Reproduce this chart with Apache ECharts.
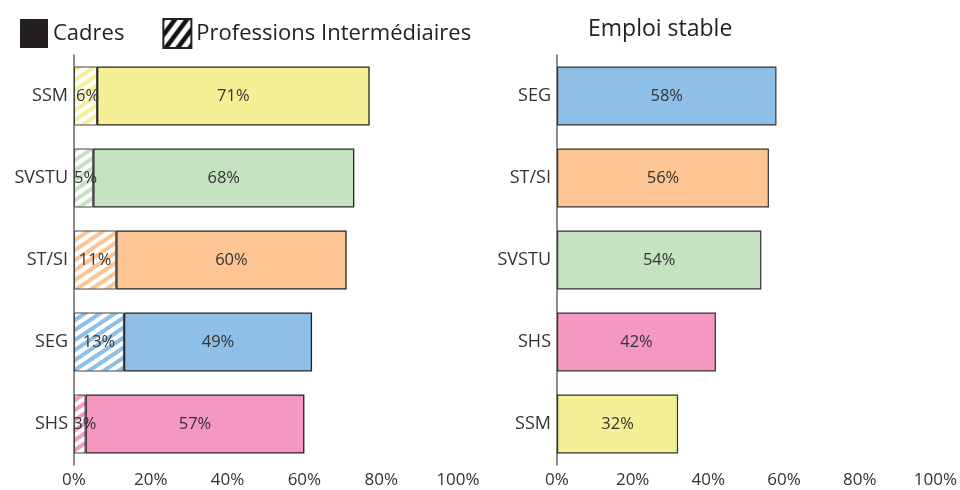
<!DOCTYPE html>
<html>
<head>
  <meta charset="utf-8">
  <title>Cadres / Emploi stable</title>
  <script src="https://cdn.jsdelivr.net/npm/echarts@6/dist/echarts.min.js"></script>
  <style>
    body { margin: 0; background: #fff; }
    #chart { width: 960px; height: 490px; }
  </style>
</head>
<body>
  <div id="chart"></div>
  <script>
    // données gauche (du haut vers le bas)
    var catsLeft = ['SSM', 'SVSTU', 'ST/SI', 'SEG', 'SHS'];
    var profInter = [6, 5, 11, 13, 3];
    var cadres = [71, 68, 60, 49, 57];
    // données droite
    var catsRight = ['SEG', 'ST/SI', 'SVSTU', 'SHS', 'SSM'];
    var emploiStable = [58, 56, 54, 42, 32];

    var couleurs = {
      'SSM': '#f5f096',
      'SVSTU': '#c5e3c0',
      'ST/SI': '#fcc593',
      'SEG': '#8ebfe7',
      'SHS': '#f497c1'
    };

    // motif hachuré : tuile w x h, trait diagonal bas-gauche -> haut-droite
    function hachure(color, w, h, lw) {
      var c = document.createElement('canvas');
      c.width = w; c.height = h;
      var ctx = c.getContext('2d');
      ctx.fillStyle = '#fff';
      ctx.fillRect(0, 0, w, h);
      ctx.strokeStyle = color;
      ctx.lineWidth = lw;
      ctx.beginPath();
      for (var k = -1; k <= 1; k++) {
        ctx.moveTo(k * w - w * 0.2, h * 1.2);
        ctx.lineTo(k * w + w * 1.2, -h * 0.2);
      }
      ctx.stroke();
      return { image: c, repeat: 'repeat' };
    }

    var police = 'Open Sans';
    var chart = echarts.init(document.getElementById('chart'));

    var xAxisBase = {
      type: 'value', min: 0, max: 100, interval: 20,
      axisLine: { lineStyle: { color: '#666', width: 1.5 } },
      axisTick: { inside: true, length: 8, lineStyle: { color: '#444' } },
      splitLine: { show: false },
      axisLabel: { formatter: '{value}%', fontFamily: police, fontSize: 17, color: '#333', margin: 7 }
    };
    var yAxisBase = {
      type: 'category', inverse: true,
      axisLine: { lineStyle: { color: '#666', width: 1.5 } },
      axisTick: { show: false },
      axisLabel: { fontFamily: police, fontSize: 18, color: '#333', margin: 6 }
    };
    var labelBase = { show: true, position: 'inside', fontFamily: police, fontSize: 16.5, color: '#333', formatter: '{c}%' };

    var option = {
      animation: false,
      textStyle: { fontFamily: police },
      title: {
        text: 'Emploi stable', left: 583, top: 13,
        textStyle: { fontFamily: police, fontSize: 23, fontWeight: 'normal', color: '#222' }
      },
      legend: {
        left: 15, top: 13,
        itemWidth: 28, itemHeight: 29, itemGap: 38,
        icon: 'rect',
        data: ['Cadres', 'Professions Intermédiaires'],
        textStyle: { fontFamily: police, fontSize: 22, color: '#222' }
      },
      grid: [
        { left: 74, right: 502, top: 55, bottom: 25 },
        { left: 557, right: 18, top: 55, bottom: 25 }
      ],
      xAxis: [
        Object.assign({ gridIndex: 0 }, xAxisBase),
        Object.assign({ gridIndex: 1 }, xAxisBase)
      ],
      yAxis: [
        Object.assign({ gridIndex: 0, data: catsLeft }, yAxisBase),
        Object.assign({ gridIndex: 1, data: catsRight }, yAxisBase)
      ],
      series: [
        {
          name: 'Professions Intermédiaires', type: 'bar', stack: 'g', xAxisIndex: 0, yAxisIndex: 0,
          barWidth: 59,
          itemStyle: { color: hachure('#111', 12, 16, 4.5), borderColor: '#222', borderWidth: 1 },
          label: labelBase,
          data: profInter.map(function (v, i) {
            // étiquette décalée quand le segment est trop étroit
            var lbl = v < 5 ? { offset: [5, 0] } : (v < 8 ? { offset: [2, 0] } : {});
            return { value: v, label: lbl, itemStyle: { color: hachure(couleurs[catsLeft[i]], 15, 10, 4), borderColor: '#444', borderWidth: 1 } };
          })
        },
        {
          name: 'Cadres', type: 'bar', stack: 'g', xAxisIndex: 0, yAxisIndex: 0,
          barWidth: 59,
          itemStyle: { color: '#231f20', borderColor: '#231f20', borderWidth: 0 },
          label: labelBase,
          data: cadres.map(function (v, i) {
            return { value: v, itemStyle: { color: couleurs[catsLeft[i]], borderColor: '#222', borderWidth: 1.3 } };
          })
        },
        {
          name: 'Emploi stable', type: 'bar', xAxisIndex: 1, yAxisIndex: 1,
          barWidth: 59,
          label: labelBase,
          data: emploiStable.map(function (v, i) {
            return { value: v, itemStyle: { color: couleurs[catsRight[i]], borderColor: '#333', borderWidth: 1.2 } };
          })
        }
      ]
    };
    chart.setOption(option);
  </script>
</body>
</html>
